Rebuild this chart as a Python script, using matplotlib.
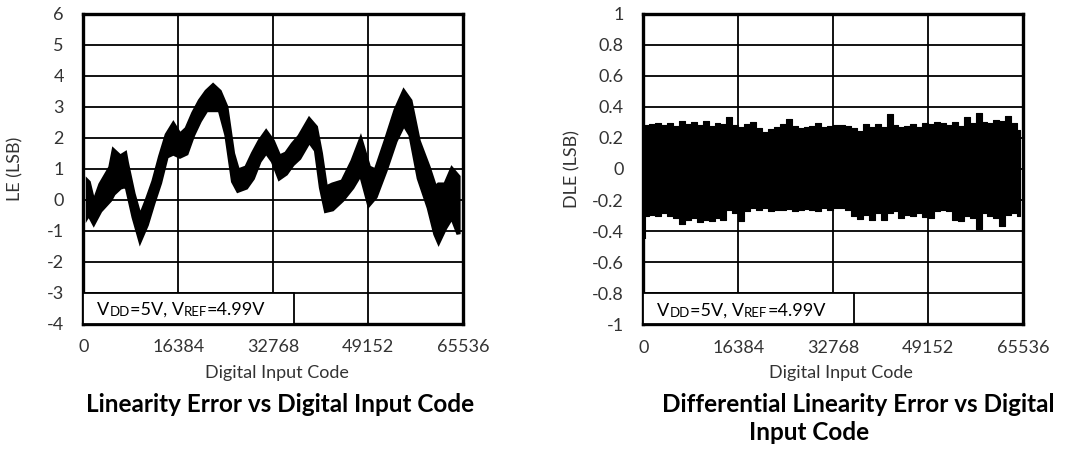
import numpy as np
import matplotlib
matplotlib.use("Agg")
import matplotlib.pyplot as plt
from matplotlib.patches import Rectangle

plt.rcParams['font.family'] = ['Lato', 'DejaVu Sans']
plt.rcParams['font.size'] = 13

# Linearity error: band envelope (code, upper, lower)
le_code = [700, 860, 1720, 2860, 4580, 5150, 6300, 7150, 7440, 8590, 9730, 10880,
           12020, 13170, 14310, 15460, 16600, 17740, 18890, 20030, 21180, 22320,
           23470, 24610, 25760, 26620, 28050, 29190, 30340, 31480, 32630, 33770,
           34920, 36060, 37210, 38920, 40070, 40930, 41790, 42930, 44650, 46360,
           47800, 49230, 50370, 52090, 53810, 55240, 56380, 57810, 59530, 60670,
           61250, 62390, 63540, 64680]
le_hi = [0.6, 0.57, -0.1, 0.5, 1.05, 1.6, 1.4, 1.5, 1.2, 0.2, -0.55, 0.0,
         0.6, 1.4, 2.1, 2.45, 2.1, 2.3, 2.8, 3.2, 3.5, 3.7,
         3.5, 3.0, 1.5, 0.95, 1.05, 1.5, 1.9, 2.2, 1.9, 1.4,
         1.5, 1.8, 2.05, 2.6, 2.35, 1.5, 0.4, 0.5, 0.6, 1.25,
         1.95, 1.05, 0.95, 1.9, 2.9, 3.5, 3.2, 1.9, 1.05, 0.4,
         0.5, 0.5, 1.0, 0.75]
le_lo = [-0.5, -0.45, -0.75, -0.35, 0.0, 0.2, 0.4, 0.45, 0.4, -0.55, -1.3, -0.8,
         -0.1, 0.55, 1.4, 1.5, 1.4, 1.5, 2.1, 2.55, 2.9, 2.9,
         2.9, 2.1, 0.6, 0.3, 0.4, 0.7, 1.25, 1.55, 1.25, 0.7,
         0.85, 1.15, 1.35, 1.9, 1.6, 0.4, -0.35, -0.3, 0.0, 0.4,
         0.85, -0.15, 0.1, 0.95, 1.9, 2.45, 2.1, 0.7, -0.25, -1.1,
         -1.35, -0.9, -0.55, -1.1]

# Differential linearity error: max/min per 1024-code bin
dle_code = [0, 1024, 2048, 3072, 4096, 5120, 6144, 7168, 8192, 9216, 10240, 11264,
            12288, 13312, 14336, 15360, 16384, 17408, 18432, 19456, 20480, 21504,
            22528, 23552, 24576, 25600, 26624, 27648, 28672, 29696, 30720, 31744,
            32768, 33792, 34816, 35840, 36864, 37888, 38912, 39936, 40960, 41984,
            43008, 44032, 45056, 46080, 47104, 48128, 49152, 50176, 51200, 52224,
            53248, 54272, 55296, 56320, 57344, 58368, 59392, 60416, 61440, 62464,
            63488, 64512, 65024]
dle_hi = [0.282, 0.289, 0.297, 0.282, 0.293, 0.276, 0.31, 0.289, 0.302, 0.282, 0.31, 0.276,
          0.293, 0.289, 0.332, 0.282, 0.267, 0.289, 0.302, 0.261, 0.24, 0.255,
          0.272, 0.289, 0.323, 0.276, 0.261, 0.267, 0.276, 0.293, 0.272, 0.276,
          0.282, 0.282, 0.276, 0.261, 0.246, 0.289, 0.272, 0.289, 0.272, 0.353,
          0.282, 0.272, 0.276, 0.289, 0.272, 0.297, 0.289, 0.304, 0.293, 0.282,
          0.302, 0.276, 0.332, 0.293, 0.357, 0.304, 0.293, 0.314, 0.31, 0.34,
          0.293, 0.25, 0.25]
dle_lo = [-0.304, -0.293, -0.304, -0.282, -0.304, -0.314, -0.357, -0.325, -0.314, -0.342, -0.325, -0.336,
          -0.314, -0.325, -0.261, -0.282, -0.336, -0.272, -0.25, -0.261, -0.25, -0.272,
          -0.261, -0.265, -0.257, -0.272, -0.265, -0.257, -0.261, -0.272, -0.25, -0.261,
          -0.25, -0.25, -0.261, -0.304, -0.321, -0.293, -0.325, -0.282, -0.329, -0.282,
          -0.272, -0.314, -0.293, -0.304, -0.282, -0.308, -0.314, -0.272, -0.261, -0.272,
          -0.325, -0.336, -0.304, -0.314, -0.389, -0.282, -0.304, -0.314, -0.368, -0.293,
          -0.282, -0.304, -0.304]
dle_spike_code = [300]
dle_spike_lo = [-0.45]

xticks = [0, 16384, 32768, 49152, 65536]
titles = ["Linearity Error vs Digital Input Code",
          "Differential Linearity Error vs Digital", "Input Code"]

fig = plt.figure(figsize=(10.8, 4.5), dpi=100)
ax1 = fig.add_axes([0.0771, 0.281, 0.3516, 0.689])
ax2 = fig.add_axes([0.5957, 0.279, 0.3516, 0.691])


def style(ax, ylim, step, ylabel, xlab_x, ylab_x):
    ax.set_xlim(0, 65536)
    ax.set_ylim(*ylim)
    ax.set_xticks(xticks)
    ax.set_xticklabels([str(t) for t in xticks], color='#333333')
    yt = np.round(np.arange(ylim[0], ylim[1] + step / 2, step), 2) + 0.0
    ax.set_yticks(yt)
    ax.set_yticklabels(['%g' % (0 if abs(v) < 1e-9 else v) for v in yt], color='#333333')
    ax.tick_params(length=0, labelsize=13)
    ax.tick_params(axis='y', pad=14)
    ax.tick_params(axis='x', pad=11)
    ax.grid(True, color='black', lw=1.3)
    ax.set_axisbelow(True)
    for s in ax.spines.values():
        s.set_linewidth(2.4)
        s.set_color('black')
    fig.text(ylab_x, (ax.get_position().y0 + ax.get_position().y1) / 2, ylabel,
             rotation=90, ha='center', va='center', fontsize=13, color='#333333')
    fig.text(xlab_x, 0.171, "Digital Input Code", ha='center', va='center',
             fontsize=13, color='#333333')
    # condition box
    ax.add_patch(Rectangle((0, 0), 0.556, 0.1, transform=ax.transAxes,
                           facecolor='white', edgecolor='black', lw=1.3, zorder=5))
    parts = [("V", 13), ("DD", 9.5), ("=5V, V", 13), ("REF", 9.5), ("=4.99V", 13)]
    t = ax.text(0.037, 0.018, parts[0][0], transform=ax.transAxes, fontsize=13,
                va='bottom', zorder=6)
    for s, fs in parts[1:]:
        t = ax.annotate(s, xy=(1, 0), xycoords=t, fontsize=fs, va='bottom',
                        zorder=6)


style(ax1, (-4, 6), 1, "LE (LSB)", 0.2565, 0.014)
style(ax2, (-1, 1), 0.2, "DLE (LSB)", 0.779, 0.53)

ax1.fill_between(le_code, le_lo, le_hi, facecolor='black', lw=3,
                 edgecolor='black', joinstyle='miter', zorder=3)

ax2.fill_between(dle_code, dle_lo, dle_hi, step='post', color='black', lw=0.8,
                 edgecolor='black', zorder=3)
ax2.vlines(dle_spike_code, dle_spike_lo, 0, color='black', lw=1.5, zorder=3)

fig.text(280 / 1080, 1 - 405 / 450, titles[0], ha='center', va='center',
         fontsize=17.5, fontweight='bold')
fig.text(858 / 1080, 1 - 405 / 450, titles[1], ha='center', va='center',
         fontsize=17.5, fontweight='bold')
fig.text(809 / 1080, 1 - 433 / 450, titles[2], ha='center', va='center',
         fontsize=17.5, fontweight='bold')

fig.savefig("out.png", dpi=100)
